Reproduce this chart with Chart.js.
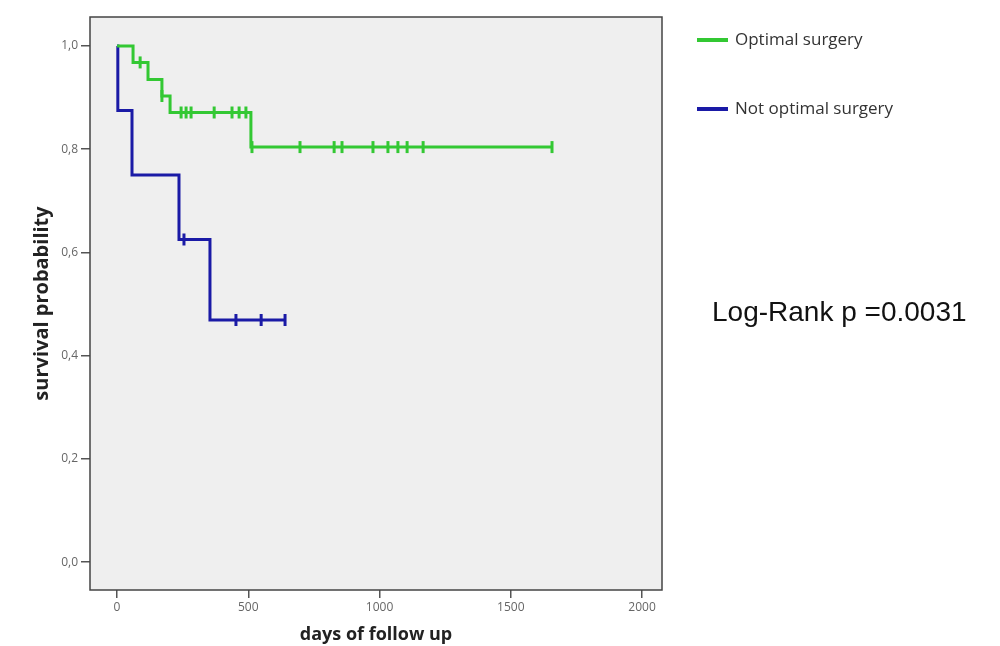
<!DOCTYPE html>
<html>
<head>
<meta charset="utf-8">
<script src="https://cdn.jsdelivr.net/npm/chart.js@4.4.1/dist/chart.umd.min.js"></script>
<style>
  html, body { margin: 0; padding: 0; background: #fff; }
  #wrap { position: relative; width: 1000px; height: 646px; overflow: hidden; }
  .leg { position: absolute; left: 697px; font-family: "Open Sans", sans-serif; font-size: 17px; color: #333; line-height: 20px; }
  .leg span { display: inline-block; width: 31px; height: 4px; vertical-align: middle; margin-right: 7px; }
  #logrank { position: absolute; left: 712px; top: 296px; font-family: "Liberation Sans", Arial, sans-serif; font-size: 28px; color: #111; line-height: 32px; }
</style>
</head>
<body>
<div id="wrap">
  <canvas id="km" width="1000" height="646"></canvas>
  <div class="leg" style="top:29px"><span style="background:#33c833"></span>Optimal surgery</div>
  <div class="leg" style="top:98px"><span style="background:#1a1aa6"></span>Not optimal surgery</div>
  <div id="logrank">Log-Rank p =0.0031</div>
</div>
<script>
// survival steps (day of event, survival after it)
const optimalTimes = [0, 61, 118, 171, 202, 510, 1657];
const optimalSurv = [1.0, 0.968, 0.935, 0.903, 0.871, 0.804, 0.804];
const optimalCensored = [88, 171, 244, 263, 282, 370, 438, 465, 491, 514, 697, 827, 857, 975, 1032, 1070, 1105, 1166, 1657];

const notOptimalTimes = [0, 3, 57, 236, 354, 640];
const notOptimalSurv = [1.0, 0.875, 0.75, 0.625, 0.469, 0.469];
const notOptimalCensored = [255, 453, 549, 640];

const xTicks = [0, 500, 1000, 1500, 2000];
const yTicks = [0, 0.2, 0.4, 0.6, 0.8, 1.0];

const green = "#33c833";
const blue = "#1a1aa6";

function survAt(times, surv, t) {
  let s = surv[0];
  for (let i = 0; i < times.length; i++) {
    if (times[i] <= t) s = surv[i];
  }
  return s;
}

const steps = (times, surv) => times.map((t, i) => ({ x: t, y: surv[i] }));
const marks = (cens, times, surv) => cens.map((t) => ({ x: t, y: survAt(times, surv, t) }));

// grey plot background and full frame
const framePlugin = {
  id: "frame",
  beforeDraw(chart) {
    const { ctx, chartArea: a } = chart;
    ctx.save();
    ctx.fillStyle = "#efefef";
    ctx.fillRect(a.left, a.top, a.right - a.left, a.bottom - a.top);
    ctx.restore();
  },
  afterDraw(chart) {
    const { ctx, chartArea: a } = chart;
    ctx.save();
    ctx.strokeStyle = "#444";
    ctx.lineWidth = 1.5;
    ctx.strokeRect(a.left, a.top, a.right - a.left, a.bottom - a.top);
    ctx.restore();
  },
};

const tickFont = { family: "'Open Sans', sans-serif", size: 12 };

new Chart(document.getElementById("km").getContext("2d"), {
  type: "line",
  data: {
    datasets: [
      {
        label: "Optimal surgery",
        data: steps(optimalTimes, optimalSurv),
        borderColor: green,
        borderWidth: 3,
        stepped: true,
        pointRadius: 0,
        fill: false,
      },
      {
        label: "Not optimal surgery",
        data: steps(notOptimalTimes, notOptimalSurv),
        borderColor: blue,
        borderWidth: 3,
        stepped: true,
        pointRadius: 0,
        fill: false,
      },
      {
        label: "censored optimal",
        data: marks(optimalCensored, optimalTimes, optimalSurv),
        showLine: false,
        pointStyle: "line",
        rotation: 90,
        pointRadius: 6,
        borderColor: green,
        pointBorderWidth: 3,
      },
      {
        label: "censored not optimal",
        data: marks(notOptimalCensored, notOptimalTimes, notOptimalSurv),
        showLine: false,
        pointStyle: "line",
        rotation: 90,
        pointRadius: 6,
        borderColor: blue,
        pointBorderWidth: 3,
      },
    ],
  },
  options: {
    responsive: false,
    animation: false,
    layout: { padding: { top: 17, right: 338, left: 0, bottom: 0 } },
    plugins: { legend: { display: false }, tooltip: { enabled: false } },
    scales: {
      x: {
        type: "linear",
        min: -103,
        max: 2076,
        afterBuildTicks: (scale) => { scale.ticks = xTicks.map((v) => ({ value: v })); },
        afterFit: (scale) => { scale.height = 56; },
        grid: { drawOnChartArea: false, drawTicks: true, tickLength: 8, color: "#555", lineWidth: 1.5 },
        border: { display: false },
        ticks: { color: "#666", font: tickFont, padding: 2, maxRotation: 0, callback: (v) => String(v) },
        title: {
          display: true,
          text: "days of follow up",
          color: "#222",
          font: { family: "'Open Sans', sans-serif", size: 18, weight: "bold" },
          padding: { top: 2, bottom: 0 },
        },
      },
      y: {
        type: "linear",
        min: -0.054,
        max: 1.056,
        afterBuildTicks: (scale) => { scale.ticks = yTicks.map((v) => ({ value: v })); },
        afterFit: (scale) => { scale.width = 90; },
        grid: { drawOnChartArea: false, drawTicks: true, tickLength: 9, color: "#555", lineWidth: 1.5 },
        border: { display: false },
        ticks: {
          color: "#666",
          font: tickFont,
          padding: 3,
          callback: (v) => v.toFixed(1).replace(".", ","),
        },
        title: {
          display: true,
          text: "survival probability",
          color: "#222",
          font: { family: "'Open Sans', sans-serif", size: 20, weight: "bold" },
          padding: { top: 30, bottom: 0 },
        },
      },
    },
  },
  plugins: [framePlugin],
});
</script>
</body>
</html>
